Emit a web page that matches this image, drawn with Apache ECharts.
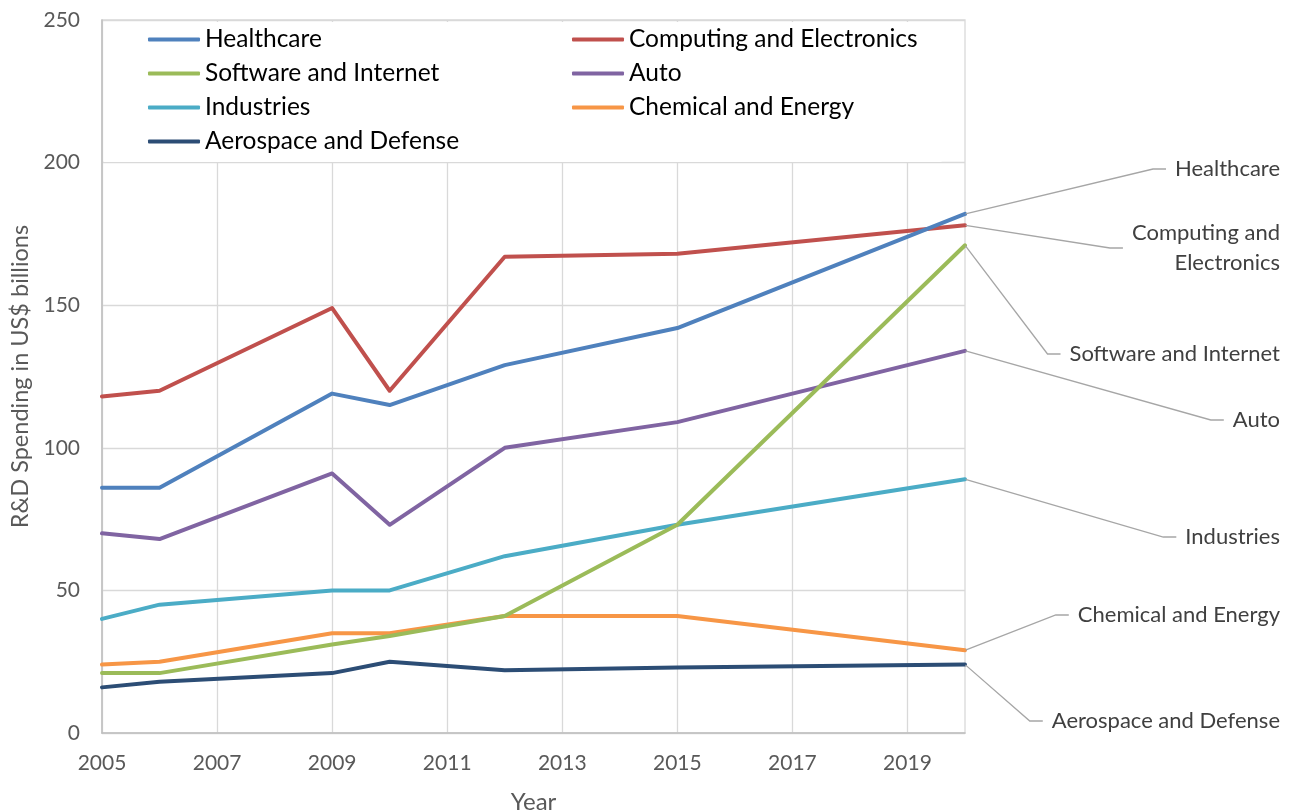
<!DOCTYPE html>
<html>
<head>
<meta charset="utf-8">
<script src="https://cdn.jsdelivr.net/npm/echarts@6/dist/echarts.min.js"></script>
<style>
html, body { margin: 0; padding: 0; background: #fff; }
#chart { width: 1293px; height: 812px; }
</style>
</head>
<body>
<div id="chart"></div>
<script>
// Categories (years on the axis)
var years = ['2005','2006','2007','2008','2009','2010','2011','2012','2013','2014','2015','2016','2017','2018','2019','2020'];
// Series values (null = no observation that year)
var healthcare = [86, 86, null, null, 119, 115, null, 129, null, null, 142, null, null, null, null, 182];
var computing  = [118, 120, null, null, 149, 120, null, 167, null, null, 168, null, null, null, null, 178];
var software   = [21, 21, null, null, 31, 34, null, 41, null, null, 73, null, null, null, null, 171];
var auto       = [70, 68, null, null, 91, 73, null, 100, null, null, 109, null, null, null, null, 134];
var industries = [40, 45, null, null, 50, 50, null, 62, null, null, 73, null, null, null, null, 89];
var chemical   = [24, 25, null, null, 35, 35, null, 41, null, null, 41, null, null, null, null, 29];
var aerospace  = [16, 18, null, null, 21, 25, null, 22, null, null, 23, null, null, null, null, 24];
var seriesNames = ['Healthcare', 'Computing and Electronics', 'Software and Internet', 'Auto', 'Industries', 'Chemical and Energy', 'Aerospace and Defense'];
var endLabels = ['Healthcare', 'Computing and\nElectronics', 'Software and Internet', 'Auto', 'Industries', 'Chemical and Energy', 'Aerospace and Defense'];
// Tick labels of value axis
var yTicks = [0, 50, 100, 150, 200, 250];

var allValues = [healthcare, computing, software, auto, industries, chemical, aerospace];
var colors = ['#4F81BD', '#C0504D', '#9BBB59', '#8064A2', '#4BACC6', '#F79646', '#2C4D75'];
// label anchor positions (layout, pixels)
var labelY = [169, 248, 354, 420, 537, 615, 721];
var FONT = 'Lato';

var chart = echarts.init(document.getElementById('chart'), null, { renderer: 'canvas' });

var series = allValues.map(function (vals, si) {
  var lastIdx = vals.length - 1;
  return {
    name: seriesNames[si],
    type: 'line',
    data: vals.map(function (v, i) {
      if (i === lastIdx) return { value: v, label: { show: true } };
      return v;
    }),
    connectNulls: true,
    showSymbol: true,
    symbol: 'circle',
    symbolSize: 1,
    clip: false,
    color: colors[si],
    lineStyle: { width: 4, color: colors[si], cap: 'round', join: 'round' },
    itemStyle: { color: colors[si] },
    emphasis: { disabled: true },
    label: {
      show: false,
      formatter: function () { return endLabels[si]; },
      fontFamily: FONT,
      fontSize: 22,
      lineHeight: 30,
      color: '#404040',
      align: 'right',
      padding: [0, 0, 0, 9]
    },
    labelLayout: function (params) {
      return { x: 1280, y: labelY[si], align: 'right', verticalAlign: 'middle' };
    },
    labelLine: {
      show: true,
      length2: 13,
      lineStyle: { color: '#a6a6a6', width: 1.3 }
    },
    z: 3 + (7 - si)
  };
});

var legendCommon = {
  orient: 'vertical',
  top: 22,
  icon: 'roundRect',
  itemWidth: 52,
  itemHeight: 4,
  itemGap: 9,
  backgroundColor: '#ffffff',
  selectedMode: false,
  textStyle: { fontFamily: FONT, fontSize: 24.5, color: '#000000', lineHeight: 24, padding: [0, 0, 0, 0] }
};

var option = {
  animation: false,
  backgroundColor: '#ffffff',
  color: colors,
  textStyle: { fontFamily: FONT },
  grid: {
    left: 102, right: 328, top: 20, bottom: 79,
    outerBoundsMode: 'none',
    containLabel: false,
    show: true, borderColor: '#d9d9d9', borderWidth: 1.3, backgroundColor: 'transparent'
  },
  legend: [
    Object.assign({}, legendCommon, {
      left: 104,
      padding: [5, 130, 8, 44],
      data: ['Healthcare', 'Software and Internet', 'Industries', 'Aerospace and Defense']
    }),
    Object.assign({}, legendCommon, {
      left: 570,
      padding: [5, 24, 42, 2],
      data: ['Computing and Electronics', 'Auto', 'Chemical and Energy']
    })
  ],
  xAxis: {
    type: 'category',
    data: years,
    boundaryGap: false,
    name: 'Year',
    nameLocation: 'middle',
    nameGap: 57,
    nameTextStyle: { fontFamily: FONT, fontSize: 24, color: '#595959' },
    axisLine: { show: true, lineStyle: { color: '#bfbfbf', width: 1.5 } },
    axisTick: { show: false, interval: 1 },
    axisLabel: { interval: 1, margin: 20, fontFamily: FONT, fontSize: 21, color: '#595959' },
    splitLine: { show: true, interval: 1, lineStyle: { color: '#d9d9d9', width: 1.3 } }
  },
  yAxis: {
    type: 'value',
    min: yTicks[0],
    max: yTicks[yTicks.length - 1],
    interval: yTicks[1] - yTicks[0],
    name: 'R&D Spending in US$ billions',
    nameLocation: 'middle',
    nameGap: 66,
    nameRotate: 90,
    nameTextStyle: { fontFamily: FONT, fontSize: 23.5, color: '#595959' },
    axisLine: { show: true, lineStyle: { color: '#bfbfbf', width: 1.5 } },
    axisTick: { show: false },
    axisLabel: { margin: 22, fontFamily: FONT, fontSize: 21, color: '#595959' },
    splitLine: { show: true, lineStyle: { color: '#d9d9d9', width: 1.3 } }
  },
  series: series
};

chart.setOption(option);
</script>
</body>
</html>
